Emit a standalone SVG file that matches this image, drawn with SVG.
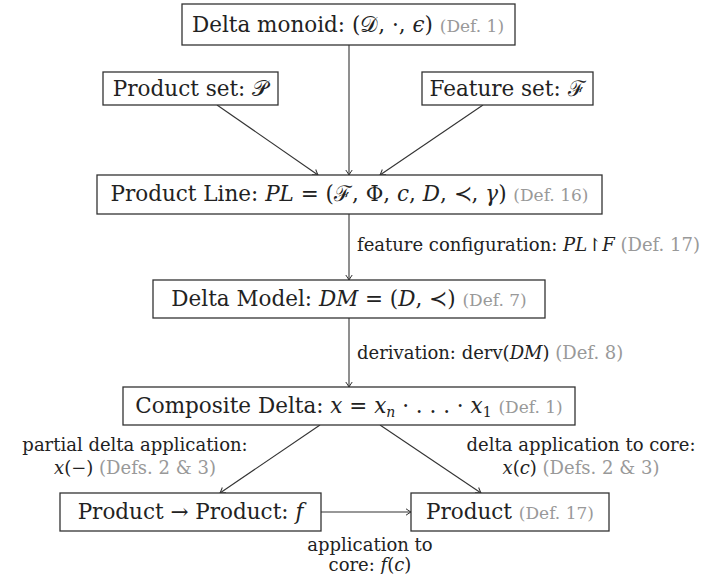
<svg xmlns="http://www.w3.org/2000/svg" width="710" height="574" viewBox="0 0 710 574">
<defs>
<style>
.box{fill:#fff;stroke:#333;stroke-width:1.3}
.t{font-family:"DejaVu Serif","Liberation Serif",serif;font-size:21.5px;fill:#222}
.l{font-family:"DejaVu Serif","Liberation Serif",serif;font-size:18px;fill:#222}
.g{fill:#999;font-size:17px}
.lg{fill:#999}
.m{font-style:italic}
.c{stroke:#333;stroke-width:1.1;fill:none;marker-end:url(#ah)}
</style>
<marker id="ah" viewBox="-6 -4 7 8" markerWidth="7" markerHeight="8" refX="0" refY="0" orient="auto" markerUnits="userSpaceOnUse">
<path d="M-5,-3.2 Q-1.5,-0.8 0,0 Q-1.5,0.8 -5,3.2" fill="none" stroke="#333" stroke-width="1"/>
</marker>
</defs>
<rect width="710" height="574" fill="#fff"/>
<g id="connectors">
<line class="c" x1="349" y1="45" x2="349" y2="175"/>
<line class="c" x1="217" y1="105" x2="318" y2="175"/>
<line class="c" x1="483" y1="105" x2="380" y2="175"/>
<line class="c" x1="349" y1="214" x2="349" y2="280"/>
<line class="c" x1="349" y1="318" x2="349" y2="387"/>
<line class="c" x1="320" y1="425" x2="220" y2="493"/>
<line class="c" x1="380" y1="425" x2="481" y2="493"/>
<line class="c" x1="321" y1="512" x2="411" y2="512"/>
<text class="l" x="357" y="251">feature configuration: <tspan class="m">PL</tspan>↾<tspan class="m">F</tspan> <tspan class="lg">(Def. 17)</tspan></text>
<text class="l" x="357" y="359">derivation: derv(<tspan class="m">DM</tspan>) <tspan class="lg">(Def. 8)</tspan></text>
<text class="l" x="135" y="451" text-anchor="middle">partial delta application:</text>
<text class="l" x="135" y="474" text-anchor="middle"><tspan class="m">x</tspan>(−) <tspan class="lg">(Defs. 2 &amp; 3)</tspan></text>
<text class="l" x="581" y="451" text-anchor="middle">delta application to core:</text>
<text class="l" x="581" y="474" text-anchor="middle"><tspan class="m">x</tspan>(<tspan class="m">c</tspan>) <tspan class="lg">(Defs. 2 &amp; 3)</tspan></text>
<text class="l" x="370" y="551" text-anchor="middle">application to</text>
<text class="l" x="370" y="571" text-anchor="middle">core: <tspan class="m">f</tspan>(<tspan class="m">c</tspan>)</text>
</g>
<g id="delta-monoid">
<rect class="box" x="182" y="4" width="333" height="41"/>
<text class="t" x="348" y="32" text-anchor="middle">Delta monoid: (𝒟, ·, <tspan class="m">ϵ</tspan>) <tspan class="g">(Def. 1)</tspan></text>
</g>
<g id="product-set">
<rect class="box" x="103" y="72" width="175" height="33"/>
<text class="t" x="190.5" y="96" text-anchor="middle">Product set: 𝒫</text>
</g>
<g id="feature-set">
<rect class="box" x="422" y="72" width="171" height="33"/>
<text class="t" x="507.5" y="96" text-anchor="middle">Feature set: ℱ</text>
</g>
<g id="product-line">
<rect class="box" x="97" y="175" width="505" height="39"/>
<text class="t" x="349.5" y="201" text-anchor="middle">Product Line: <tspan class="m">PL</tspan> = (ℱ, Φ, <tspan class="m">c</tspan>, <tspan class="m">D</tspan>, ≺, <tspan class="m">γ</tspan>) <tspan class="g">(Def. 16)</tspan></text>
</g>
<g id="delta-model">
<rect class="box" x="153" y="280" width="392" height="38"/>
<text class="t" x="349" y="306" text-anchor="middle">Delta Model: <tspan class="m">DM</tspan> = (<tspan class="m">D</tspan>, ≺) <tspan class="g">(Def. 7)</tspan></text>
</g>
<g id="composite-delta">
<rect class="box" x="123" y="387" width="452" height="38"/>
<text class="t" x="349" y="413" text-anchor="middle">Composite Delta: <tspan class="m">x</tspan> = <tspan class="m">x</tspan><tspan font-size="14" dy="4" class="m">n</tspan><tspan dy="-4"> · . . . · </tspan><tspan class="m">x</tspan><tspan font-size="14" dy="4">1</tspan><tspan dy="-4"> </tspan><tspan class="g">(Def. 1)</tspan></text>
</g>
<g id="product-to-product">
<rect class="box" x="60" y="493" width="261" height="38"/>
<text class="t" x="190.5" y="519" text-anchor="middle">Product → Product: <tspan class="m">f</tspan></text>
</g>
<g id="product">
<rect class="box" x="411" y="493" width="198" height="38"/>
<text class="t" x="510" y="519" text-anchor="middle">Product <tspan class="g">(Def. 17)</tspan></text>
</g>
</svg>
